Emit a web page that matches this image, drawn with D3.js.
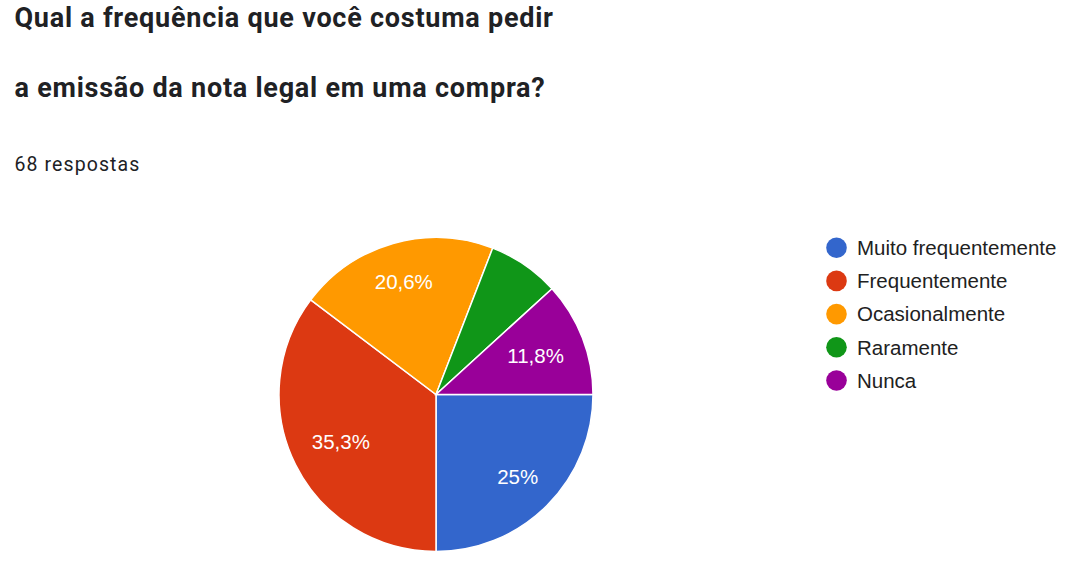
<!DOCTYPE html>
<html>
<head>
<meta charset="utf-8">
<script src="https://cdn.jsdelivr.net/npm/d3@7"></script>
<style>
  html, body { margin: 0; padding: 0; background: #fff; }
  svg { display: block; }
</style>
</head>
<body>
<svg id="chart" width="1075" height="566"></svg>
<script>
const titleLines = ["Qual a frequência que você costuma pedir", "a emissão da nota legal em uma compra?"];
const subtitle = "68 respostas";
const categories = ["Muito frequentemente", "Frequentemente", "Ocasionalmente", "Raramente", "Nunca"];
const counts = [17, 24, 14, 5, 8];
const colors = ["#3366cc", "#dc3912", "#ff9900", "#109618", "#990099"];

const svg = d3.select("#chart");

svg.selectAll("text.title").data(titleLines).join("text")
  .attr("class", "title")
  .attr("x", 14.5)
  .attr("y", (d, i) => 26.7 + i * 70)
  .attr("font-family", "Roboto")
  .attr("font-weight", 700)
  .attr("font-size", 27)
  .attr("letter-spacing", 0.75)
  .attr("fill", "#202124")
  .text(d => d);

svg.append("text")
  .attr("x", 14.5).attr("y", 171)
  .attr("font-family", "Roboto")
  .attr("font-size", 19.5)
  .attr("letter-spacing", 1.1)
  .attr("fill", "#202124")
  .text(subtitle);

const cx = 436, cy = 394.5, R = 157;
const total = d3.sum(counts);
const pie = d3.pie().sort(null).value(d => d)
  .startAngle(Math.PI / 2).endAngle(Math.PI / 2 + 2 * Math.PI);
const arcs = pie(counts);
const arc = d3.arc().innerRadius(0).outerRadius(R);

const g = svg.append("g").attr("transform", `translate(${cx},${cy})`);
g.selectAll("path").data(arcs).join("path")
  .attr("d", arc)
  .attr("fill", (d, i) => colors[i])
  .attr("stroke", "#fff")
  .attr("stroke-width", 1.5);

const fmt = v => {
  const p = Math.round(v / total * 1000) / 10;
  return (Number.isInteger(p) ? p.toString() : p.toFixed(1).replace(".", ",")) + "%";
};

// label placement: push label box outward until its farthest corner reaches L
const L = 0.868 * R, hh = 8.5;
const labels = g.selectAll("text.lbl").data(arcs.filter(d => d.value / total >= 0.1)).join("text")
  .attr("class", "lbl")
  .attr("text-anchor", "middle")
  .attr("dy", "0.36em")
  .attr("font-family", "Liberation Sans, Arial, sans-serif")
  .attr("font-size", 20.5)
  .attr("fill", "#fff")
  .text(d => fmt(d.value));
labels.attr("transform", function(d) {
  const a = (d.startAngle + d.endAngle) / 2;
  const dx = Math.sin(a), dy = -Math.cos(a);
  const hw = this.getComputedTextLength() / 2;
  const sx = Math.sign(dx) * hw, sy = Math.sign(dy) * hh;
  // |t*d + s|^2 = L^2
  const b = dx * sx + dy * sy;
  const c = sx * sx + sy * sy - L * L;
  const t = -b + Math.sqrt(b * b - c);
  return `translate(${t * dx},${t * dy})`;
});

const legend = svg.append("g");
const rows = legend.selectAll("g").data(categories).join("g")
  .attr("transform", (d, i) => `translate(836.5,${247.7 + i * 33.2})`);
rows.append("circle").attr("r", 10.3).attr("fill", (d, i) => colors[i]);
rows.append("text")
  .attr("x", 20.5)
  .attr("dy", "0.36em")
  .attr("font-family", "Liberation Sans, Arial, sans-serif")
  .attr("font-size", 20.5)
  .attr("fill", "#212121")
  .text(d => d);
</script>
</body>
</html>
